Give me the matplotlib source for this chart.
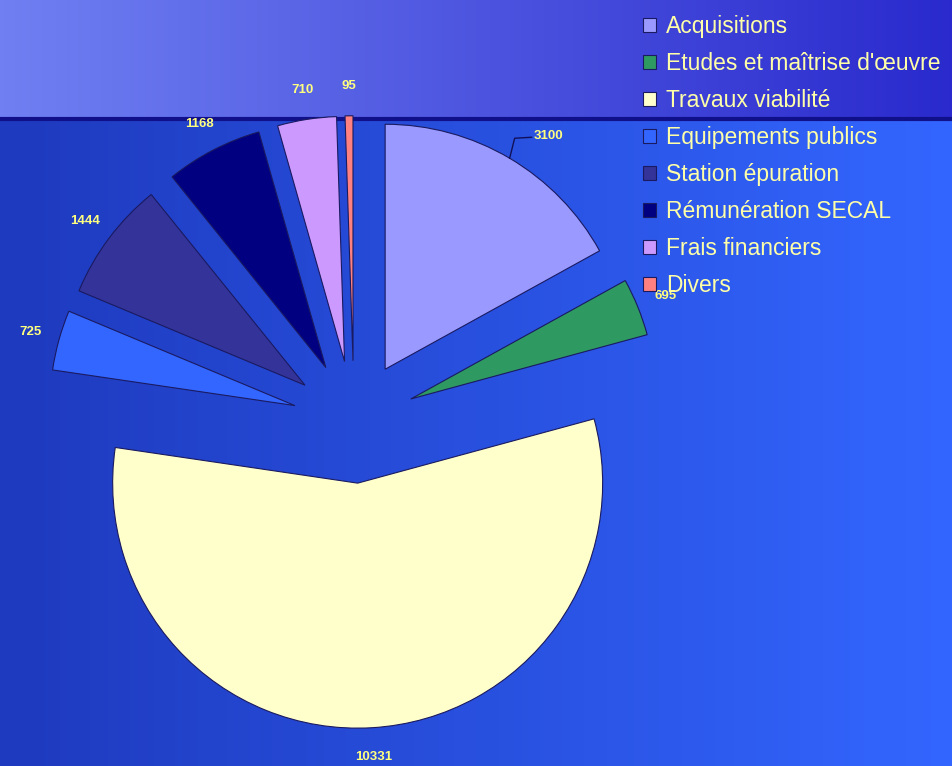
import numpy as np
import matplotlib.pyplot as plt

categories = ['Acquisitions', "Etudes et maîtrise d'œuvre", 'Travaux viabilité',
              'Equipements publics', 'Station épuration', 'Rémunération SECAL',
              'Frais financiers', 'Divers']
values = [3100, 695, 10331, 725, 1444, 1168, 710, 95]
colors = ['#9999FF', '#2E9960', '#FFFFCC', '#3366FF', '#333399', '#000080',
          '#CC99FF', '#FF8080']

W, H = 953, 766
fig = plt.figure(figsize=(W / 100, H / 100), dpi=100)

# background: header band + blue gradient
bg = fig.add_axes([0, 0, 1, 1])
bg.set_axis_off()
x = np.linspace(0, 1, 256)
low = np.zeros((2, 256, 3))
c0, c1 = np.array([30, 58, 190]) / 255, np.array([51, 102, 255]) / 255
low[:] = c0 + (c1 - c0) * x[:, None]
bg.imshow(low, extent=[0, W, 0, H - 120], aspect='auto')
top = np.zeros((2, 256, 3))
t0, t1 = np.array([112, 128, 242]) / 255, np.array([42, 42, 205]) / 255
top[:] = t0 + (t1 - t0) * x[:, None]
bg.imshow(top, extent=[0, W, H - 118, H], aspect='auto')
bg.axhline(H - 119, color='#10108a', lw=3)
bg.set_xlim(0, W)
bg.set_ylim(0, H)

ax = fig.add_axes([0, 0, 1, 1])
ax.set_axis_off()
ax.patch.set_alpha(0)
center = (354, H - 422)
radius = 245
wedges, texts = ax.pie(values, colors=colors, startangle=90, counterclock=False,
                       explode=[0.25 * radius] * len(values), center=center, radius=radius,
                       labels=[str(v) for v in values], labeldistance=1.12,
                       frame=True,
                       wedgeprops=dict(edgecolor='#1a1a60', linewidth=0.8),
                       textprops=dict(color='#FFFF80', fontsize=9.5,
                                      fontweight='bold', family='Liberation Sans'))
for t in texts:
    t.set_ha('center')

# leader line for the first slice
w = wedges[0]
mid = np.deg2rad((w.theta1 + w.theta2) / 2)
cx, cy = w.center
px, py = cx + radius * np.cos(mid), cy + radius * np.sin(mid)
ax.plot([px, px + 5, px + 22], [py, py + 20, py + 21], color='#10105a', lw=1)
texts[0].set_position((px + 24, py + 22))
texts[0].set_ha('left')

ax.set_xlim(0, W)
ax.set_ylim(0, H)

leg = ax.legend(wedges, categories, loc='upper left', bbox_to_anchor=(634 / W, 1 - 6 / H),
                frameon=False, fontsize=16.5, labelspacing=0.61, handlelength=0.55,
                handleheight=0.55, handletextpad=0.45, borderaxespad=0)
for t in leg.get_texts():
    t.set_color('#FFFFA8')
    t.set_family('Liberation Sans')

fig.savefig('out.png', dpi=100)
